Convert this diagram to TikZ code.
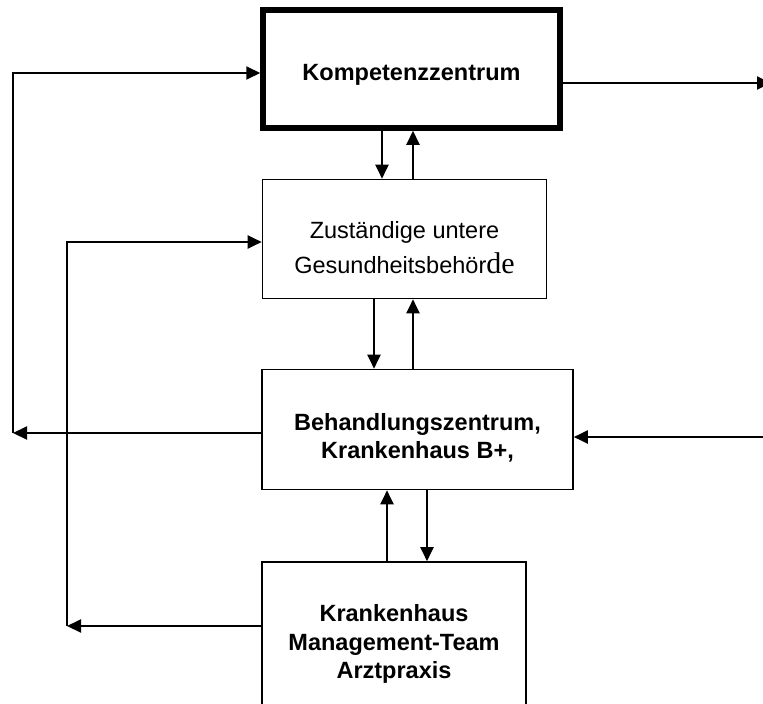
\documentclass[tikz,border=0pt]{standalone}
\usepackage{fontspec}
\setmainfont{Liberation Sans}
\newfontfamily\serifpart{Liberation Serif}
\usepackage{tikz}
\usetikzlibrary{arrows.meta}
\usetikzlibrary{positioning}

\tikzset{
    box/.style={draw, line width=1.6pt, inner sep=0pt, align=center,
        font=\fontsize{23.5}{28.2}\selectfont},
    arr/.style={-{Triangle[length=14pt, width=13pt]}, line width=2pt},
    ln/.style={line width=2pt}
}

\begin{document}
\begin{tikzpicture}[x=1pt, y=-1pt]

        \useasboundingbox (0,0) rectangle (763,704);

        \node[box, line width=5.5pt, minimum width=297pt, minimum height=118pt] (komp) at (411.5,69) {\rule{0pt}{27pt}\bfseries Kompetenzzentrum};
        \node[box, minimum width=284pt, minimum height=119pt, font=\fontsize{23.5}{35}\selectfont] (gesund) at (404.5,239) {\rule{0pt}{35pt}Zuständige untere\\Gesundheitsbehör{\serifpart\fontsize{30}{35}\selectfont de}};
        \node[box, minimum width=311pt, minimum height=120pt] (behand) at (417.5,429.5) {\rule{0pt}{33pt}\bfseries Behandlungszentrum,\\\bfseries Krankenhaus B+,};
        \node[box, minimum width=264pt, minimum height=160pt] (kranken) at (394,642) {\rule{0pt}{21pt}\bfseries Krankenhaus\\\bfseries Management-Team\\\bfseries Arztpraxis};

        \coordinate (l1) at (13,433);
        \coordinate (l1top) at (13,73);
        \coordinate (l2) at (67,626);
        \coordinate (l2top) at (67,242);
        \coordinate (rout) at (771,83);
        \coordinate (rin) at (764,437);

        % up and down between the boxes
        \draw[arr] ([xshift=-29.5pt]komp.south) -- ([xshift=-22.5pt]gesund.north);
        \draw[arr] ([xshift=8.5pt]gesund.north) -- ([xshift=1.5pt]komp.south);
        \draw[arr] ([xshift=-30.5pt]gesund.south) -- ([xshift=-43.5pt]behand.north);
        \draw[arr] ([xshift=-4.5pt]behand.north) -- ([xshift=8.5pt]gesund.south);
        \draw[arr] ([xshift=-7pt]kranken.north) -- ([xshift=-30.5pt]behand.south);
        \draw[arr] ([xshift=9.5pt]behand.south) -- ([xshift=33pt]kranken.north);

        % loops on the left
        \draw[arr] (behand.west |- l1) -- (l1);
        \draw[arr] (l1) -- (l1top) -- (komp.west |- l1top);
        \draw[arr] (kranken.west |- l2) -- (l2);
        \draw[arr] (l2) -- (l2top) -- (gesund.west |- l2top);

        % right side
        \draw[arr] (komp.east |- rout) -- (rout);
        \draw[arr] (rin) -- (behand.east |- rin);

\end{tikzpicture}
\end{document}
